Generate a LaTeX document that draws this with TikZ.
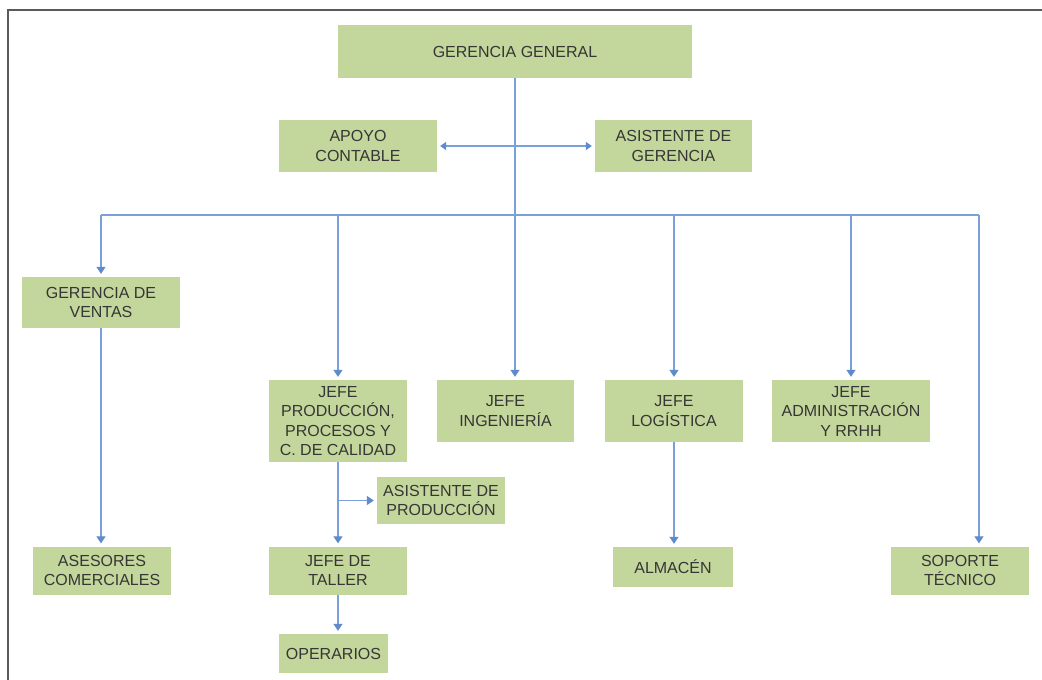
\documentclass[tikz,border=0pt]{standalone}
\usepackage{fontspec}
\setmainfont{Liberation Sans}
\usetikzlibrary{arrows.meta}
\definecolor{boxgreen}{HTML}{C3D69B}
\definecolor{linkblue}{HTML}{7AA0D8}
\definecolor{tipblue}{HTML}{5F8ACB}
\definecolor{txtgray}{HTML}{363636}
\definecolor{framegray}{HTML}{5A5A5A}
\begin{document}
\begin{tikzpicture}[x=1pt,y=-1pt,
  unit/.style={fill=boxgreen, draw=none, inner sep=0pt, align=center,
    text=txtgray, font=\fontsize{16}{19.5}\selectfont},
  link/.style={draw=linkblue, line width=1.3pt},
  tip/.style={-{Triangle[width=9pt,length=7pt,color=tipblue]}, shorten >=3pt},
  both/.style={{Triangle[width=8pt,length=6pt,color=tipblue]}-{Triangle[width=8pt,length=6pt,color=tipblue]},
    shorten <=3pt, shorten >=3pt}
]
% page and frame
\useasboundingbox[fill=white] (0,0) rectangle (1042,680);
\draw[framegray, line width=1.2pt] (8,680) -- (8,10) -- (1042,10);

% units
\node[unit, minimum width=354pt, minimum height=53pt] (gg) at (515,51.5) {GERENCIA GENERAL};
\node[unit, minimum width=158pt, minimum height=52pt] (apoyo) at (358,146) {APOYO\\CONTABLE};
\node[unit, minimum width=157pt, minimum height=52pt] (asist) at (673.5,146) {ASISTENTE DE\\GERENCIA};
\node[unit, minimum width=158pt, minimum height=51pt] (gv) at (101,302.5) {GERENCIA DE\\VENTAS};
\node[unit, minimum width=138pt, minimum height=82pt] (jp) at (338,421) {JEFE\\PRODUCCIÓN,\\PROCESOS Y\\C. DE CALIDAD};
\node[unit, minimum width=137pt, minimum height=62pt] (jing) at (505.5,411) {JEFE\\INGENIERÍA};
\node[unit, minimum width=138pt, minimum height=62pt] (jlog) at (674,411) {JEFE\\LOGÍSTICA};
\node[unit, minimum width=158pt, minimum height=62pt] (jadm) at (851,411) {JEFE\\ADMINISTRACIÓN\\Y RRHH};
\node[unit, minimum width=128pt, minimum height=47pt] (asprod) at (441,500.5) {ASISTENTE DE\\PRODUCCIÓN};
\node[unit, minimum width=138pt, minimum height=48pt] (ases) at (102,570.5) {ASESORES\\COMERCIALES};
\node[unit, minimum width=138pt, minimum height=48pt] (jt) at (338,570.5) {JEFE DE\\TALLER};
\node[unit, minimum width=120pt, minimum height=40pt] (alm) at (673,567) {ALMACÉN};
\node[unit, minimum width=138pt, minimum height=48pt] (sop) at (960,570.5) {SOPORTE\\TÉCNICO};
\node[unit, minimum width=109pt, minimum height=39pt] (oper) at (333.5,653.5) {OPERARIOS};

% connectors
\coordinate (hub) at (515,215);
\coordinate (busR) at (979,215);
\draw[link] (gg.south) -- (hub);
\draw[link, both] (apoyo.east) -- (asist.west);
\draw[link] (gv.north |- hub) -- (busR);
\draw[link, tip] (gv.north |- hub) -- (gv.north);
\draw[link, tip] (jp.north |- hub) -- (jp.north);
\draw[link, tip] (hub) -- (hub |- jing.north);
\draw[link, tip] (jlog.north |- hub) -- (jlog.north);
\draw[link, tip] (jadm.north |- hub) -- (jadm.north);
\draw[link, tip] (busR) -- (busR |- sop.north);

\draw[link, tip] (gv.south) -- (gv.south |- ases.north);
\draw[link, tip] (jp.south) -- (jt.north);
\coordinate (split) at (jp.south |- asprod.west);
\draw[link, tip] (split) -- (asprod.west);
\draw[link, tip] (jt.south) -- (jt.south |- oper.north);
\draw[link, tip] (jlog.south) -- (jlog.south |- alm.north);
\end{tikzpicture}
\end{document}
